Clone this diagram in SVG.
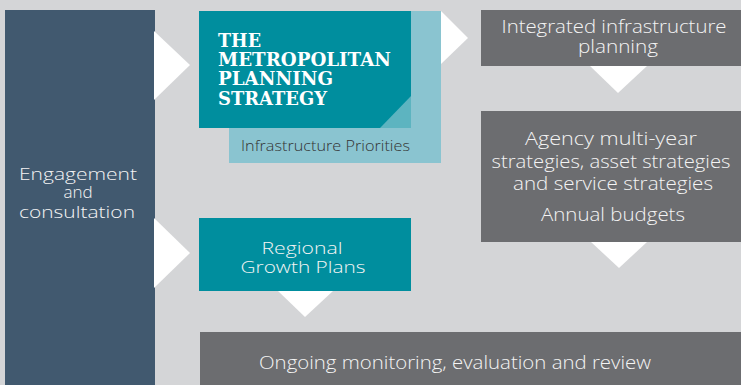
<svg xmlns="http://www.w3.org/2000/svg" width="741" height="385" viewBox="0 0 741 385">
<style>
.bg{fill:#d4d5d7}
.gray{fill:#6c6d70}
.teal{fill:#008e9e}
.navy{fill:#41596f}
.arrow{fill:#ffffff}
.t{font-family:"Open Sans","Liberation Sans",sans-serif;font-weight:300;font-size:18px;fill:#f4f4f4;text-anchor:middle}
.s{font-size:17px}
.slab{font-family:"DejaVu Serif","Liberation Serif",serif;font-weight:bold;font-size:19px;fill:#ffffff}
.dark{font-family:"Open Sans","Liberation Sans",sans-serif;font-weight:300;font-size:15px;fill:#333333}
</style>
<rect class="bg" x="0" y="0" width="741" height="385"/>
<g id="engagement">
<rect class="navy" x="5" y="10" width="150" height="375"/>
<text class="t s" x="78" y="180" textLength="118" lengthAdjust="spacingAndGlyphs">Engagement</text>
<text class="t s" x="78" y="198">and</text>
<text class="t s" x="77" y="218" textLength="116" lengthAdjust="spacingAndGlyphs">consultation</text>
</g>
<g id="connectors">
<polygon class="arrow" points="154,31 190,65 154,100"/>
<polygon class="arrow" points="154,218 190,253 154,288"/>
<polygon class="arrow" points="441,11 468,38 441,64"/>
<polygon class="arrow" points="590,66 647,66 618,93"/>
<polygon class="arrow" points="591,242 647,242 619,268"/>
<polygon class="arrow" points="278,291 333,291 305,317"/>
</g>
<g id="metropolitan">
<rect x="229" y="11" width="212" height="152" fill="#8ac4d0"/>
<rect class="teal" x="199" y="11" width="212" height="117"/>
<polygon points="380,128 411,96 411,128" fill="#5db4c0"/>
<text class="slab" x="218" y="47" textLength="43" lengthAdjust="spacingAndGlyphs">THE</text>
<text class="slab" x="218" y="66" textLength="173" lengthAdjust="spacingAndGlyphs">METROPOLITAN</text>
<text class="slab" x="218" y="85" textLength="115" lengthAdjust="spacingAndGlyphs">PLANNING</text>
<text class="slab" x="218" y="105" textLength="109" lengthAdjust="spacingAndGlyphs">STRATEGY</text>
<text class="dark" x="241" y="151" textLength="169" lengthAdjust="spacingAndGlyphs">Infrastructure Priorities</text>
</g>
<g id="integrated">
<rect class="gray" x="481" y="10" width="260" height="56"/>
<text class="t" x="614" y="33" textLength="225" lengthAdjust="spacingAndGlyphs">Integrated infrastructure</text>
<text class="t" x="618" y="53" textLength="80" lengthAdjust="spacingAndGlyphs">planning</text>
</g>
<g id="agency">
<rect class="gray" x="481" y="111" width="260" height="131"/>
<text class="t" x="611" y="145" textLength="172" lengthAdjust="spacingAndGlyphs">Agency multi-year</text>
<text class="t" x="611" y="168" textLength="239" lengthAdjust="spacingAndGlyphs">strategies, asset strategies</text>
<text class="t" x="613" y="190" textLength="200" lengthAdjust="spacingAndGlyphs">and service strategies</text>
<text class="t" x="613" y="221" textLength="144" lengthAdjust="spacingAndGlyphs">Annual budgets</text>
</g>
<g id="regional">
<rect class="teal" x="199" y="218" width="212" height="73"/>
<text class="t s" x="302" y="254" textLength="81" lengthAdjust="spacingAndGlyphs">Regional</text>
<text class="t s" x="303" y="273" textLength="125" lengthAdjust="spacingAndGlyphs">Growth Plans</text>
</g>
<g id="ongoing">
<rect class="gray" x="200" y="332" width="541" height="53"/>
<text class="t" x="455" y="369" textLength="392" lengthAdjust="spacingAndGlyphs">Ongoing monitoring, evaluation and review</text>
</g>
</svg>
